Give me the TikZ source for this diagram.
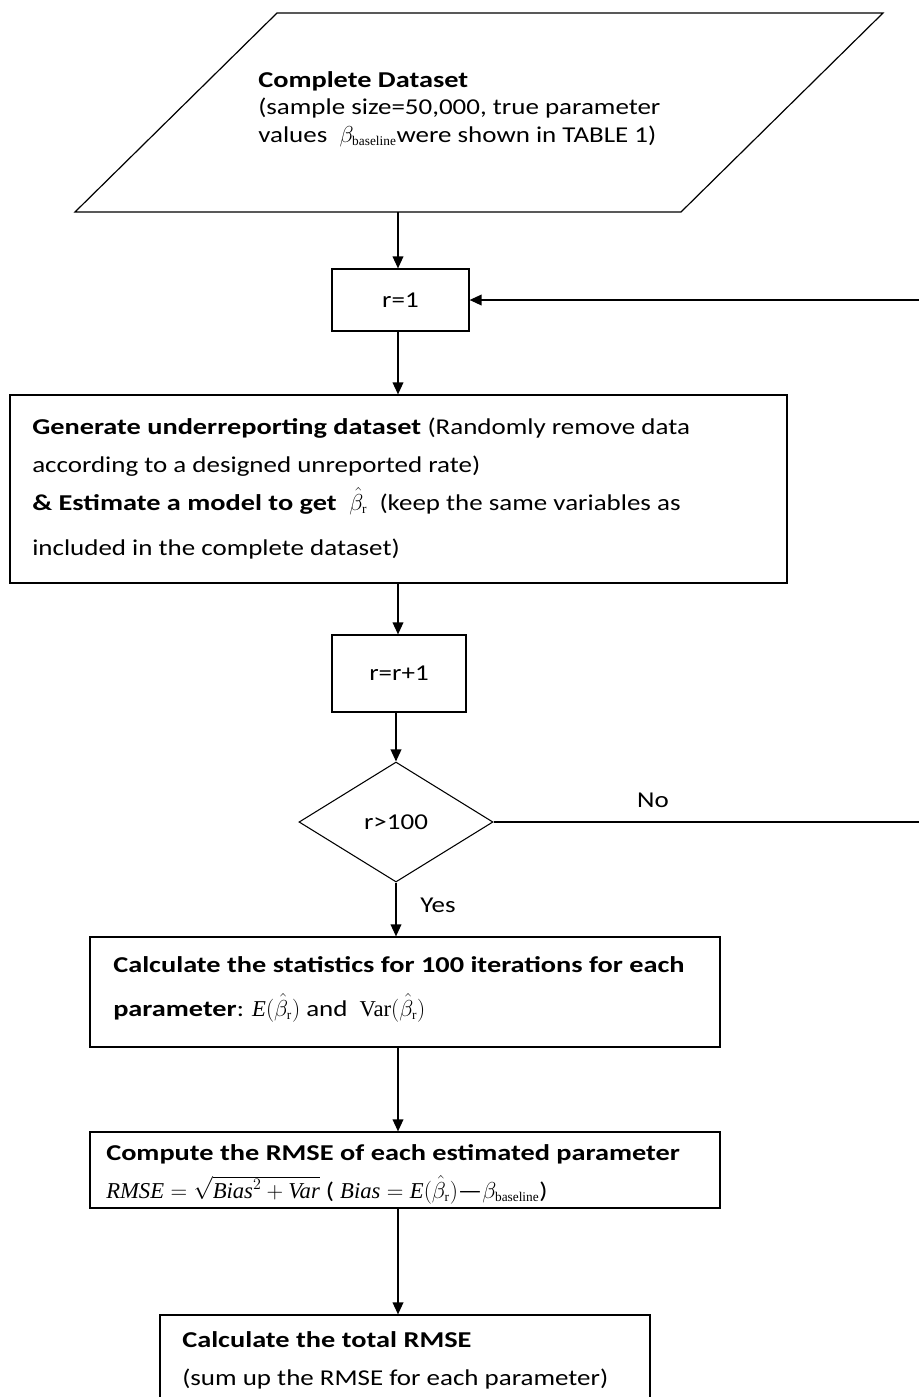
\documentclass[tikz,border=0pt]{standalone}
\usepackage{fontspec}
\setmainfont{Carlito}[UprightFeatures={FakeStretch=1.19},BoldFeatures={FakeStretch=1.25}]
\newfontfamily\tms{Liberation Serif}
\usetikzlibrary{arrows.meta,shapes.geometric}
\newcommand{\ti}[1]{\mbox{\tms\itshape #1}}
\newcommand{\tu}[1]{\mbox{\tms #1}}
\newcommand{\subr}{\mbox{\tms\fontsize{10}{10}\selectfont r}}
\newcommand{\subb}{\mbox{\tms\fontsize{10}{10}\selectfont baseline}}
\newcommand{\bhat}{\ensuremath{\hat{\beta}_{\subr}}}
\newcommand{\bbase}{\ensuremath{\beta_{\subb}}}
\tikzset{
  every node/.style={font=\fontsize{17}{20}\selectfont},
  sz/.style 2 args={minimum width={#1*0.75pt},minimum height={#2*0.75pt}},
  box/.style={draw,line width=0.9pt,inner sep=0pt},
  dia/.style={draw,diamond,line width=0.8pt,inner sep=0pt},
  arr/.style={line width=1.1pt,-{Triangle[length=9pt,width=8pt]}},
  flow/.style={line width=1.1pt},
  txt/.style={anchor=base west,inner sep=0pt},
  lbl/.style={inner sep=0pt}
}
\begin{document}
\begin{tikzpicture}[x=0.75pt,y=-0.75pt]
\clip (0,0) rectangle (919,1397);
\useasboundingbox (0,0) rectangle (919,1397);
% data parallelogram
\draw[line width=0.9pt] (277,13) -- (883,13) -- (681,212) -- (75,212) -- cycle;
\coordinate (ds) at (398,212);
\node[txt] (d1) at (258,87) {\bfseries Complete Dataset};
\node[txt] (d2) at (258,114) {(sample size=50,000, true parameter};
\node[txt] (d3) at (258,142) {values \ $\beta_{\subb}$were shown in TABLE 1)};
% boxes
\node[box,sz={137}{62}] (r1) at (400.5,300) {r=1};
\node[box,sz={777}{188}] (gen) at (398.5,489) {};
\node[box,sz={134}{77}] (rr) at (399,673.5) {r=r+1};
\node[dia,minimum width={194*0.75pt},minimum height={120*0.75pt}] (dec) at (396,822) {r>100};
\node[box,sz={630}{110}] (stat) at (405,992) {};
\node[box,sz={630}{76}] (rmse) at (405,1170) {};
\node[box,sz={490}{110}] (fin) at (405,1370) {};
% texts in boxes
\node[txt] (g1) at (32,434) {\bfseries Generate underreporting dataset \mdseries(Randomly remove data};
\node[txt] (g2) at (32,472) {according to a designed unreported rate)};
\node[txt] (g3) at (32,510) {\bfseries \& Estimate a model to get \ \mdseries\bhat\ \ (keep the same variables as};
\node[txt] (g4) at (32,555) {included in the complete dataset)};
\node[txt] (s1) at (113,972) {\bfseries Calculate the statistics for 100 iterations for each};
\node[txt] (s2) at (113,1016) {\bfseries parameter\mdseries: $\ti{E}(\bhat)$ and \ $\tu{Var}(\bhat)$};
\node[txt] (m1) at (106,1160) {\bfseries Compute the RMSE of each estimated parameter};
\node[txt] (m2) at (106,1198) {$\ti{RMSE}=\sqrt{\ti{Bias}^2+\ti{Var}}$ ( $\ti{Bias}=\ti{E}(\bhat)$—$\bbase$)};
\node[txt] (f1) at (182,1347) {\bfseries Calculate the total RMSE};
\node[txt] (f2) at (182,1385) {(sum up the RMSE for each parameter)};
% connectors
\coordinate (loopin) at (919,300);
\coordinate (loopout) at (919,822);
\draw[arr] (ds) -- (ds |- r1.north);
\draw[arr] (loopin) -- (r1.east);
\draw[arr] (r1.south -| ds) -- (gen.north -| ds);
\draw[arr] (gen.south -| ds) -- (rr.north -| ds);
\draw[arr] (rr.south -| dec.north) -- (dec.north);
\draw[flow] (dec.east) -- (loopout);
\draw[arr] (dec.south) -- (dec.south |- stat.north);
\draw[arr] (stat.south -| ds) -- (rmse.north -| ds);
\draw[arr] (rmse.south -| ds) -- (fin.north -| ds);
\node[lbl] (no) at (653,800) {No};
\node[lbl] (yes) at (438,905) {Yes};
\end{tikzpicture}
\end{document}
